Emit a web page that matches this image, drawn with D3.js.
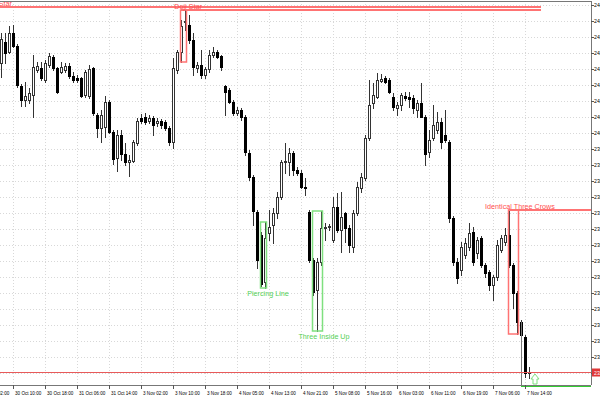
<!DOCTYPE html>
<html><head><meta charset="utf-8">
<script src="https://cdn.jsdelivr.net/npm/d3@7/dist/d3.min.js"></script>
<style>html,body{margin:0;padding:0;background:#fff;}svg{display:block;}</style>
</head><body>
<svg id="c" width="600" height="400"></svg>
<script>
// OHLC values per hourly bar (index 0..132)
const opens=[24219,24284,24253,24312,24272,24147,24103,24103,24119,24197,24203,24166,24212,24237,24203,24191,24197,24209,24178,24172,24172,24119,24116,24203,24056,24016,24019,24097,24003,23922,23994,23934,23909,23912,23969,24047,24050,24037,24047,24031,24037,24034,24016,23972,24197,24253,24347,24337,24291,24203,24212,24181,24200,24244,24253,24241,24147,24134,24097,24062,24072,24050,23937,23862,23753,23681,23534,23687,23712,23750,23800,23909,23909,23937,23884,23875,23831,23753,23603,23509,23597,23703,23706,23666,23769,23697,23750,23703,23644,23750,23828,23859,23984,24094,24112,24162,24172,24166,24112,24078,24087,24116,24112,24109,24072,24094,24050,23941,23984,24009,24034,23994,23972,23734,23597,23572,23619,23644,23691,23625,23672,23587,23566,23525,23550,23634,23659,23681,23587,23500,23409,23362,23250];
const highs=[24312,24312,24334,24337,24278,24153,24159,24141,24244,24222,24222,24228,24250,24244,24206,24222,24219,24219,24191,24181,24175,24197,24212,24206,24062,24072,24116,24103,24009,24009,24009,23969,23931,23978,24047,24059,24062,24056,24053,24047,24044,24041,24022,24234,24259,24353,24384,24369,24312,24222,24259,24206,24259,24269,24259,24244,24150,24141,24103,24081,24078,24056,23947,23869,23759,23691,23722,23759,23766,23816,23916,23969,23953,23944,23894,23884,23859,23759,23609,23609,23756,23719,23716,23800,23812,23816,23753,23712,23759,23847,23875,23994,24166,24156,24187,24184,24178,24172,24125,24097,24125,24128,24128,24119,24103,24156,24056,24009,24087,24066,24047,24072,23978,23741,23609,23659,23672,23719,23706,23675,23678,23594,23572,23556,23666,23681,23703,23759,23594,23506,23416,23369,23269];
const lows=[24175,24219,24250,24269,24144,24084,24084,24094,24050,24191,24166,24159,24206,24197,24125,24187,24191,24172,24159,24159,24112,24112,24109,24056,23987,23972,23987,24000,23903,23881,23916,23900,23866,23909,23962,24031,24028,24031,23994,24022,24016,24009,23962,23953,24187,24222,24322,24281,24181,24191,24172,24172,24191,24237,24234,24197,24056,24094,24056,24056,24041,23931,23853,23712,23578,23522,23516,23666,23656,23734,23794,23875,23869,23869,23869,23828,23806,23597,23494,23381,23587,23666,23697,23659,23691,23628,23659,23628,23628,23744,23816,23853,23978,24078,24109,24159,24156,24125,24072,24056,24072,24103,24081,24062,24050,24050,23900,23925,23978,24000,23953,23972,23722,23587,23531,23556,23609,23634,23587,23609,23581,23550,23509,23478,23541,23628,23650,23581,23453,23372,23362,23237,23234];
const closes=[24294,24250,24312,24272,24150,24103,24116,24125,24206,24209,24172,24219,24241,24203,24128,24206,24209,24178,24166,24166,24116,24191,24200,24062,24016,24056,24097,24003,23919,23994,23934,23909,23916,23972,24037,24037,24034,24047,24025,24037,24025,24016,23972,24203,24253,24334,24350,24291,24206,24212,24181,24200,24244,24253,24237,24206,24128,24097,24062,24072,24050,23941,23862,23756,23603,23528,23672,23706,23750,23800,23909,23912,23937,23884,23875,23831,23828,23603,23503,23597,23703,23706,23709,23769,23697,23737,23703,23650,23750,23831,23862,23984,24087,24119,24166,24169,24159,24128,24081,24087,24119,24109,24106,24078,24094,24050,23934,23978,24025,24034,23972,23978,23734,23597,23547,23644,23656,23687,23597,23666,23587,23562,23525,23550,23650,23672,23681,23587,23500,23409,23369,23250,23252];

// time axis labels and the bar each one marks
const timeTickBars=[-5,3,11,19,27,35,43,51,59,67,75,83,91,99,107,115,123,131];
const timeTickLabels=["30 Oct 02:00","30 Oct 10:00","30 Oct 18:00","31 Oct 06:00","31 Oct 14:00","3 Nov 02:00","3 Nov 10:00","3 Nov 18:00","4 Nov 05:00","4 Nov 13:00","4 Nov 21:00","5 Nov 08:00","5 Nov 16:00","6 Nov 03:00","6 Nov 11:00","6 Nov 19:00","7 Nov 06:00","7 Nov 14:00"];
// price axis
const priceTicks=[24400,24350,24300,24250,24200,24150,24100,24050,24000,23950,23900,23850,23800,23750,23700,23650,23600,23550,23500,23450,23400,23350,23300,23250];
const lastPrice=23252;

// candlestick patterns: name, first bar, last bar, kind
const patternNames=["Doji Star","Piercing Line","Three Inside Up","Identical Three Crows"];
const patternFirst=[45,65,78,127];
const patternLast=[46,66,80,129];
const patternBull=[false,true,true,false];
// resistance lines (price, from bar, to bar)
const levelPrices=[24394,24384];
const levelFrom=[-60,45];
const levelTo=[135,135];

const svg=d3.select("#c");
const W=600,H=400, plotR=591, plotT=1, plotB=385;
const x=d3.scaleLinear().domain([0,132]).range([1,529]);
const y=d3.scaleLinear().domain([23250,24400]).range([373,5]);
const R=v=>Math.round(y(v));
const FONT="'Liberation Sans', Arial, sans-serif";
const red="#ff7373", green="#7fe07f";

svg.append("rect").attr("width",W).attr("height",H).attr("fill","#fff");
svg.append("defs").append("clipPath").attr("id","pc").append("rect")
  .attr("x",0).attr("y",plotT).attr("width",plotR).attr("height",plotB-plotT);

// grid
const grid=svg.append("g").attr("stroke","#d8d8d8").attr("stroke-dasharray","1,2").attr("shape-rendering","crispEdges");
timeTickBars.forEach(b=>{ if(x(b)>=0) grid.append("line").attr("x1",x(b)+0.5).attr("x2",x(b)+0.5).attr("y1",plotT).attr("y2",plotB);});
priceTicks.forEach(p=>grid.append("line").attr("x1",0).attr("x2",plotR).attr("y1",R(p)+0.5).attr("y2",R(p)+0.5));

const plot=svg.append("g").attr("clip-path","url(#pc)");

// resistance levels from patterns
levelPrices.forEach((p,i)=>{
  plot.append("line").attr("x1",x(levelFrom[i])).attr("x2",x(levelTo[i])).attr("y1",R(p)).attr("y2",R(p))
   .attr("stroke",red).attr("stroke-width",2);
});

// candles
const idx=d3.range(opens.length);
const cg=plot.append("g").attr("shape-rendering","crispEdges");
idx.forEach(i=>{
  const cx=x(i);
  cg.append("line").attr("x1",cx+0.5).attr("x2",cx+0.5).attr("y1",R(highs[i])).attr("y2",R(lows[i])+1)
    .attr("stroke","#333");
  const top=R(Math.max(opens[i],closes[i])), bot=R(Math.min(opens[i],closes[i]));
  if(closes[i]<opens[i]){
    cg.append("rect").attr("x",cx-1).attr("y",top).attr("width",3).attr("height",Math.max(1,bot-top+1)).attr("fill","#000");
  } else {
    cg.append("rect").attr("x",cx-0.5).attr("y",top+0.5).attr("width",2).attr("height",Math.max(0,bot-top)).attr("fill","#fff").attr("stroke","#333");
  }
});

// pattern boxes and labels
patternNames.forEach((n,i)=>{
  const f=patternFirst[i], l=patternLast[i];
  const hi=d3.max(highs.slice(f,l+1)), lo=d3.min(lows.slice(f,l+1));
  const col=patternBull[i]?green:red;
  const x0=x(f)-0.5, x1=x(l)+1.5;
  plot.append("rect").attr("x",x0).attr("y",R(hi)).attr("width",x1-x0).attr("height",R(lo)-R(hi))
    .attr("fill","none").attr("stroke",col).attr("stroke-width",1.5);
  const cx=x(l)+3;
  if(patternBull[i]){
    plot.append("text").attr("x",cx).attr("y",R(lo)+8).attr("text-anchor","middle")
      .attr("font-family",FONT).attr("font-size",7.2).attr("fill","#55d055").text(n);
  } else {
    plot.append("text").attr("x",cx).attr("y",R(hi)-1.5).attr("text-anchor","middle")
      .attr("font-family",FONT).attr("font-size",7.2).attr("fill","#ff5050").text(n);
  }
  if(n==="Identical Three Crows"){
    plot.append("line").attr("x1",x0).attr("x2",plotR).attr("y1",R(hi)).attr("y2",R(hi)).attr("stroke",red).attr("stroke-width",2);
  }
});
// earlier pattern label cut at the left edge
plot.append("text").attr("x",12).attr("y",6).attr("text-anchor","end").attr("font-family",FONT)
  .attr("font-size",7.2).attr("fill","#ff5050").text("Evening Star");

// last bullish signal: frame and arrow
const sigBar=130;
plot.append("line").attr("x1",x(sigBar)+0.5).attr("x2",x(sigBar)+0.5).attr("y1",R(closes[sigBar-1])).attr("y2",plotB)
  .attr("stroke","#777");
svg.append("line").attr("x1",x(sigBar)).attr("x2",plotR).attr("y1",386).attr("y2",386).attr("stroke","#3c3").attr("stroke-width",2);
const ax=x(133)+2, ay=R(lows[132])-4;
svg.append("path").attr("d",`M${ax},${ay} l4,5 h-2 v5 h-4 v-5 h-2 z`).attr("fill","#fff").attr("stroke",green).attr("stroke-width",1);

// current price line
svg.append("line").attr("x1",0).attr("x2",plotR).attr("y1",R(lastPrice)+0.5).attr("y2",R(lastPrice)+0.5)
  .attr("stroke","#e85a5a").attr("shape-rendering","crispEdges");

// frame
const fr=svg.append("g").attr("stroke","#777").attr("shape-rendering","crispEdges");
fr.append("line").attr("x1",0).attr("x2",plotR).attr("y1",plotT+0.5).attr("y2",plotT+0.5);
fr.append("line").attr("x1",plotR+0.5).attr("x2",plotR+0.5).attr("y1",plotT).attr("y2",plotB);
fr.append("line").attr("x1",0).attr("x2",plotR).attr("y1",plotB+0.5).attr("y2",plotB+0.5);

// price axis
priceTicks.forEach(p=>{
  svg.append("line").attr("x1",plotR).attr("x2",plotR+3).attr("y1",R(p)+0.5).attr("y2",R(p)+0.5).attr("stroke","#555").attr("shape-rendering","crispEdges");
  svg.append("text").attr("x",plotR+3).attr("y",R(p)+2).attr("font-family",FONT).attr("font-size",5.2).attr("fill","#000").text(d3.format(".1f")(p));
});
svg.append("rect").attr("x",plotR+1).attr("y",R(lastPrice)-3.5).attr("width",10).attr("height",8).attr("fill","#e03838");
svg.append("text").attr("x",plotR+3).attr("y",R(lastPrice)+2.5).attr("font-family",FONT).attr("font-size",5.2).attr("fill","#fff").text(d3.format(".1f")(lastPrice));

// time axis
timeTickBars.forEach((b,i)=>{
  svg.append("line").attr("x1",x(b)+0.5).attr("x2",x(b)+0.5).attr("y1",plotB).attr("y2",plotB+4).attr("stroke","#555").attr("shape-rendering","crispEdges");
  svg.append("text").attr("x",x(b)+2).attr("y",395).attr("font-family",FONT).attr("font-size",4.6).attr("fill","#000").text(timeTickLabels[i]);
});
</script>
</body></html>
